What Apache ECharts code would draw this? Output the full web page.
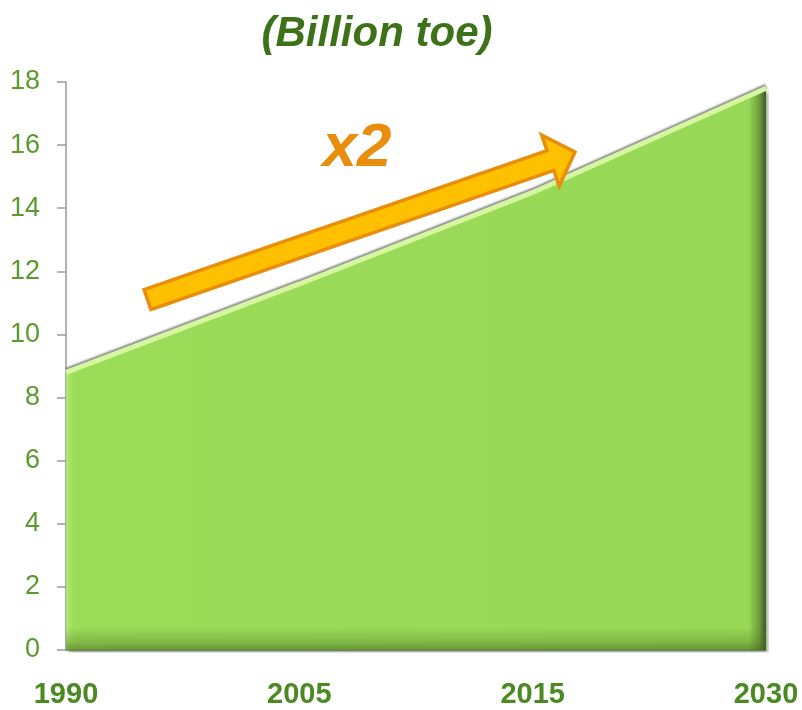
<!DOCTYPE html>
<html>
<head>
<meta charset="utf-8">
<script src="https://cdn.jsdelivr.net/npm/echarts@6/dist/echarts.min.js"></script>
<style>
  html, body { margin: 0; padding: 0; background: #ffffff; }
  #chart { width: 802px; height: 710px; }
</style>
</head>
<body>
<div id="chart"></div>
<script>
// World primary energy demand, billion tonnes of oil equivalent
const years = ['1990', '2005', '2015', '2030'];
const demand = [8.8, 11.6, 14.5, 17.8];
const yTicks = [0, 2, 4, 6, 8, 10, 12, 14, 16, 18];

const chart = echarts.init(document.getElementById('chart'), null, { renderer: 'canvas' });

const option = {
  backgroundColor: '#ffffff',
  animation: false,
  title: {
    text: '(Billion toe)',
    left: 372,
    top: 8,
    textAlign: 'center',
    textStyle: {
      fontFamily: 'Liberation Sans, Arial, sans-serif',
      fontStyle: 'italic',
      fontWeight: 'bold',
      fontSize: 42,
      color: '#3e7219'
    }
  },
  grid: { left: 66, right: 36, top: 82, bottom: 60, containLabel: false },
  xAxis: {
    type: 'category',
    data: years,
    boundaryGap: false,
    axisLine: { show: true, lineStyle: { color: '#9a9a9a', width: 1 } },
    axisTick: { show: false },
    axisLabel: {
      margin: 30,
      fontFamily: 'Liberation Sans, Arial, sans-serif',
      fontWeight: 'bold',
      fontSize: 29,
      color: '#4b8a22'
    },
    splitLine: { show: false }
  },
  yAxis: {
    type: 'value',
    min: yTicks[0],
    max: yTicks[yTicks.length - 1],
    interval: 2,
    axisLine: { show: true, lineStyle: { color: '#9a9a9a', width: 1.5 } },
    axisTick: { show: true, length: 9, lineStyle: { color: '#9a9a9a', width: 1.5 } },
    axisLabel: {
      margin: 26,
      fontFamily: '"Liberation Sans Narrow", "Arial Narrow", "Liberation Sans", sans-serif',
      fontSize: 27,
      color: '#5b9a2e'
    },
    splitLine: { show: false }
  },
  series: [
    {
      // main bevelled area
      type: 'line',
      data: demand,
      symbol: 'none',
      z: 3,
      lineStyle: {
        color: '#d6f7a0',
        width: 5,
        shadowColor: 'rgba(110,110,110,0.8)',
        shadowBlur: 2,
        shadowOffsetY: -2
      },
      areaStyle: {
        opacity: 1,
        color: {
          type: 'linear', x: 0, y: 0, x2: 1, y2: 0,
          colorStops: [
            { offset: 0, color: '#b0e872' },
            { offset: 0.012, color: '#9bdc59' },
            { offset: 0.975, color: '#98d857' },
            { offset: 0.99, color: '#6f9f3c' },
            { offset: 1, color: '#3c5a22' }
          ]
        },
        shadowColor: 'rgba(60,80,40,0.55)',
        shadowBlur: 4,
        shadowOffsetX: 2,
        shadowOffsetY: 3
      }
    },
    {
      // darker lower edge of the same area
      type: 'line',
      data: demand,
      symbol: 'none',
      z: 4,
      silent: true,
      lineStyle: { width: 0, opacity: 0 },
      areaStyle: {
        opacity: 1,
        color: {
          type: 'linear', x: 0, y: 0, x2: 0, y2: 1,
          colorStops: [
            { offset: 0, color: 'rgba(70,110,30,0)' },
            { offset: 0.96, color: 'rgba(70,110,30,0)' },
            { offset: 0.985, color: 'rgba(70,110,30,0.3)' },
            { offset: 1, color: 'rgba(60,95,25,0.55)' }
          ]
        }
      }
    }
  ]
};

chart.setOption(option);

// Orange "doubling" arrow drawn above the area
function arrowPoints(tail, tip, shaftHalf, headLen, headHalf) {
  const dx = tip[0] - tail[0], dy = tip[1] - tail[1];
  const len = Math.hypot(dx, dy);
  const u = [dx / len, dy / len];
  const n = [-u[1], u[0]];
  const pt = (a, b) => [tail[0] + a * u[0] + b * n[0], tail[1] + a * u[1] + b * n[1]];
  const base = len - headLen;
  return [
    pt(0, -shaftHalf), pt(base, -shaftHalf), pt(base, -headHalf),
    pt(len, 0),
    pt(base, headHalf), pt(base, shaftHalf), pt(0, shaftHalf)
  ];
}

chart.setOption({
  graphic: [
    {
      type: 'polygon',
      z: 10,
      shape: { points: arrowPoints([147.5, 299.5], [575, 152], 10.5, 26, 27) },
      style: { fill: '#ffc000', stroke: '#e88d0c', lineWidth: 3.5, lineJoin: 'miter' }
    },
    {
      type: 'text',
      z: 10,
      x: 357,
      y: 149,
      style: {
        text: 'x2',
        fill: '#e88d0c',
        font: 'italic bold 62px "Liberation Sans", Arial, sans-serif',
        align: 'center',
        verticalAlign: 'middle',
        shadowColor: 'rgba(110,110,110,0.75)',
        shadowBlur: 1,
        shadowOffsetX: 3,
        shadowOffsetY: 3
      }
    }
  ]
});
</script>
</body>
</html>
